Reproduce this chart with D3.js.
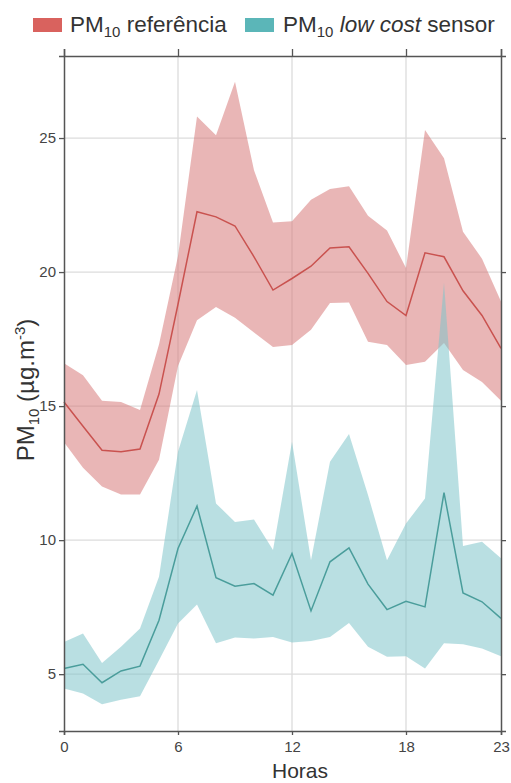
<!DOCTYPE html>
<html>
<head>
<meta charset="utf-8">
<script src="https://cdn.jsdelivr.net/npm/d3@7"></script>
<style>
  body { margin: 0; background: #fff; }
  text { font-family: "Liberation Sans", Arial, sans-serif; }
</style>
</head>
<body>
<div id="chart"></div>
<script>
// hourly PM10 (ug/m3): mean line plus lower/upper band
var hours = [0, 1, 2, 3, 4, 5, 6, 7, 8, 9, 10, 11, 12, 13, 14, 15, 16, 17, 18, 19, 20, 21, 22, 23];

var refMean  = [15.15, 14.25, 13.35, 13.3, 13.4, 15.45, 18.8, 22.25, 22.06, 21.72, 20.57, 19.33, 19.76, 20.22, 20.9, 20.94, 19.95, 18.9, 18.38, 20.72, 20.57, 19.3, 18.38, 17.15];
var refUpper = [16.6, 16.15, 15.2, 15.15, 14.85, 17.3, 20.6, 25.8, 25.1, 27.1, 23.8, 21.85, 21.9, 22.7, 23.1, 23.2, 22.1, 21.55, 20.15, 25.3, 24.25, 21.5, 20.5, 18.9];
var refLower = [13.65, 12.7, 12.0, 11.7, 11.7, 13.0, 16.5, 18.2, 18.7, 18.3, 17.75, 17.2, 17.28, 17.85, 18.85, 18.86, 17.4, 17.28, 16.53, 16.65, 17.35, 16.35, 15.9, 15.2];

var lcsMean  = [5.21, 5.37, 4.68, 5.12, 5.3, 7.01, 9.69, 11.27, 8.6, 8.28, 8.38, 7.95, 9.5, 7.36, 9.19, 9.71, 8.36, 7.41, 7.72, 7.51, 11.77, 8.03, 7.7, 7.08];
var lcsUpper = [6.2, 6.52, 5.42, 6.02, 6.7, 8.63, 13.3, 15.6, 11.37, 10.68, 10.77, 9.63, 13.67, 9.25, 12.92, 13.96, 11.68, 9.25, 10.62, 11.55, 19.6, 9.78, 9.94, 9.32];
var lcsLower = [4.47, 4.28, 3.88, 4.05, 4.18, 5.52, 6.89, 7.6, 6.15, 6.37, 6.33, 6.39, 6.18, 6.24, 6.39, 6.91, 6.02, 5.65, 5.67, 5.21, 6.15, 6.12, 5.96, 5.67];

var xTicks = [0, 6, 12, 18, 23];
var yTicks = [5, 10, 15, 20, 25];

var width = 511,
    height = 783,
    margin = {top: 56, right: 10, bottom: 52, left: 64};

var xScale = d3.scaleLinear()
    .domain([0, 23])
    .range([margin.left, width - margin.right]);

var yScale = d3.scaleLinear()
    .domain([2.88, 28.06])
    .range([height - margin.bottom, margin.top]);

var svg = d3.select('#chart').append('svg')
    .attr('width', width)
    .attr('height', height);

// grid
svg.append('g').selectAll('line').data(xTicks.slice(1, -1))
    .enter().append('line')
    .attr('x1', function(d) { return xScale(d); })
    .attr('x2', function(d) { return xScale(d); })
    .attr('y1', yScale.range()[0])
    .attr('y2', yScale.range()[1])
    .style('stroke', '#dcdcdc')
    .style('stroke-width', 1.3);

svg.append('g').selectAll('line').data(yTicks)
    .enter().append('line')
    .attr('x1', xScale.range()[0])
    .attr('x2', xScale.range()[1])
    .attr('y1', function(d) { return yScale(d); })
    .attr('y2', function(d) { return yScale(d); })
    .style('stroke', '#dcdcdc')
    .style('stroke-width', 1.3);

function band(lower, upper) {
    return d3.area()
        .x(function(d, i) { return xScale(hours[i]); })
        .y0(function(d, i) { return yScale(lower[i]); })
        .y1(function(d, i) { return yScale(upper[i]); })(hours);
}

function meanLine(vals) {
    return d3.line()
        .x(function(d, i) { return xScale(hours[i]); })
        .y(function(d, i) { return yScale(vals[i]); })(hours);
}

svg.append('path')
    .attr('d', band(refLower, refUpper))
    .style('fill', '#d77a7a')
    .style('fill-opacity', 0.55);

svg.append('path')
    .attr('d', band(lcsLower, lcsUpper))
    .style('fill', '#7fc4ca')
    .style('fill-opacity', 0.55);

svg.append('path')
    .attr('d', meanLine(refMean))
    .style('fill', 'none')
    .style('stroke', '#c9524f')
    .style('stroke-width', 1.5);

svg.append('path')
    .attr('d', meanLine(lcsMean))
    .style('fill', 'none')
    .style('stroke', '#4a9d9b')
    .style('stroke-width', 1.5);

// frame: all four sides carry ticks
var bottom = height - margin.bottom,
    right = width - margin.right;

svg.append('g')
    .attr('transform', 'translate(0,' + bottom + ')')
    .call(d3.axisBottom(xScale).tickValues(xTicks).tickSize(4).tickPadding(6));

svg.append('g')
    .attr('transform', 'translate(0,' + margin.top + ')')
    .call(d3.axisTop(xScale).tickValues(xTicks).tickSize(7).tickFormat(''));

svg.append('g')
    .attr('transform', 'translate(' + margin.left + ',0)')
    .call(d3.axisLeft(yScale).tickValues(yTicks).tickSize(5).tickPadding(3));

svg.append('g')
    .attr('transform', 'translate(' + right + ',0)')
    .call(d3.axisRight(yScale).tickValues(yTicks).tickSize(5).tickFormat(''));

svg.selectAll('.domain').style('stroke', '#555').style('stroke-width', 1.5);
svg.selectAll('.tick line').style('stroke', '#555').style('stroke-width', 1.3);
svg.selectAll('.tick text')
    .style('font-size', '15px')
    .style('fill', '#444');

// axis titles
svg.append('text')
    .attr('x', 300)
    .attr('y', 778)
    .attr('text-anchor', 'middle')
    .style('font-size', '21px')
    .style('fill', '#333')
    .text('Horas');

var yLab = svg.append('text')
    .attr('transform', 'translate(34,390) rotate(-90)')
    .attr('text-anchor', 'middle')
    .style('font-size', '24px')
    .style('fill', '#333');
yLab.append('tspan').text('PM');
yLab.append('tspan').attr('dy', 5).style('font-size', '15px').text('10');
yLab.append('tspan').attr('dy', -5).text(' (µg.m');
yLab.append('tspan').attr('dy', -9).style('font-size', '15px').text('-3');
yLab.append('tspan').attr('dy', 9).text(')');

// legend
var legend = [
    {x: 33, tx: 70, color: '#d9625e'},
    {x: 245, tx: 283, color: '#5bb6b8'}
];

svg.selectAll('.swatch').data(legend)
    .enter().append('rect')
    .attr('x', function(d) { return d.x; })
    .attr('y', 18)
    .attr('width', 29)
    .attr('height', 14)
    .style('fill', function(d) { return d.color; });

var l1 = svg.append('text')
    .attr('x', legend[0].tx)
    .attr('y', 32)
    .style('font-size', '22.5px')
    .style('fill', '#333');
l1.append('tspan').text('PM');
l1.append('tspan').attr('dy', 5).style('font-size', '15px').text('10');
l1.append('tspan').attr('dy', -5).text(' referência');

var l2 = svg.append('text')
    .attr('x', legend[1].tx)
    .attr('y', 32)
    .style('font-size', '22.5px')
    .style('fill', '#333');
l2.append('tspan').text('PM');
l2.append('tspan').attr('dy', 5).style('font-size', '15px').text('10');
l2.append('tspan').attr('dy', -5).style('font-style', 'italic').text(' low cost');
l2.append('tspan').text(' sensor');
</script>
</body>
</html>
